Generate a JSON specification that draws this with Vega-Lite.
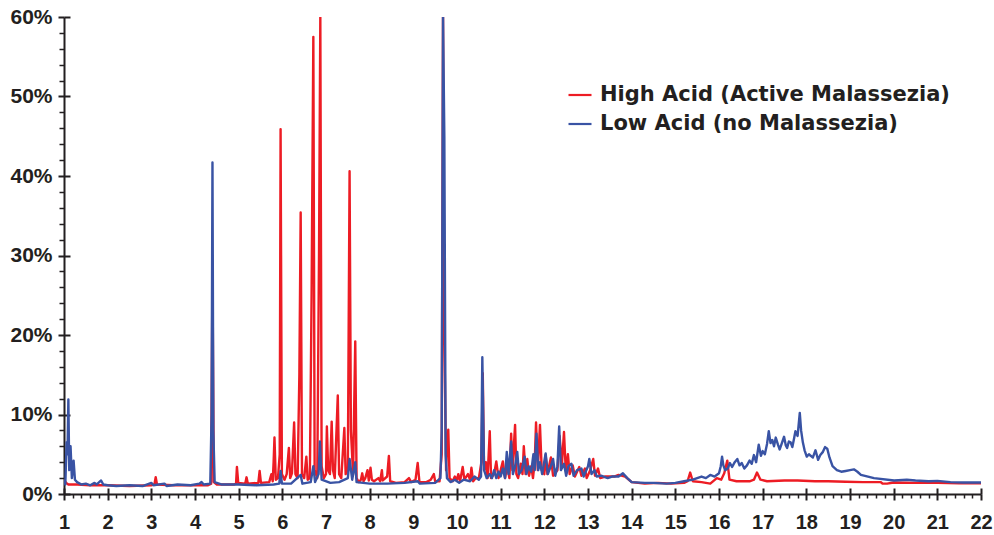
{
"$schema":"https://vega.github.io/schema/vega-lite/v6.json",
"width":917,"height":477,
"autosize":{"type":"none"},
"padding":{"left":64,"top":17,"right":13,"bottom":41},
"background":"white",
"config":{"view":{"stroke":null},"font":"Liberation Sans"},
"datasets":{
"main":[
{"s":"H","x":1.0,"y":1.8},{"s":"H","x":1.05,"y":1.4},{"s":"H","x":1.1,"y":1.2},{"s":"H","x":1.3,"y":1.2},{"s":"H","x":1.6,"y":1.1},{"s":"H","x":2.0,"y":1.1},{"s":"H","x":2.5,"y":1.0},{"s":"H","x":3.0,"y":1.1},{"s":"H","x":3.07,"y":1.2},{"s":"H","x":3.1,"y":2.1},{"s":"H","x":3.13,"y":1.2},{"s":"H","x":3.5,"y":1.1},{"s":"H","x":4.0,"y":1.1},{"s":"H","x":4.3,"y":1.1},{"s":"H","x":4.37,"y":1.3},{"s":"H","x":4.4,"y":27.9},{"s":"H","x":4.43,"y":1.5},{"s":"H","x":4.5,"y":1.2},{"s":"H","x":4.9,"y":1.2},{"s":"H","x":4.94,"y":1.3},{"s":"H","x":4.96,"y":3.4},{"s":"H","x":4.99,"y":1.4},{"s":"H","x":5.15,"y":1.3},{"s":"H","x":5.18,"y":2.1},{"s":"H","x":5.21,"y":1.3},{"s":"H","x":5.45,"y":1.4},{"s":"H","x":5.48,"y":2.9},{"s":"H","x":5.51,"y":1.4},{"s":"H","x":5.7,"y":1.5},{"s":"H","x":5.75,"y":2.5},{"s":"H","x":5.78,"y":1.6},{"s":"H","x":5.8,"y":4},{"s":"H","x":5.82,"y":7.1},{"s":"H","x":5.85,"y":1.8},{"s":"H","x":5.9,"y":2.0},{"s":"H","x":5.94,"y":5},{"s":"H","x":5.96,"y":45.9},{"s":"H","x":5.99,"y":2.5},{"s":"H","x":6.05,"y":1.8},{"s":"H","x":6.1,"y":2.5},{"s":"H","x":6.15,"y":5.8},{"s":"H","x":6.18,"y":2.0},{"s":"H","x":6.22,"y":2.6},{"s":"H","x":6.27,"y":9.0},{"s":"H","x":6.3,"y":2.5},{"s":"H","x":6.35,"y":2.0},{"s":"H","x":6.39,"y":15},{"s":"H","x":6.42,"y":35.4},{"s":"H","x":6.45,"y":2.5},{"s":"H","x":6.5,"y":2.0},{"s":"H","x":6.55,"y":4.7},{"s":"H","x":6.58,"y":1.8},{"s":"H","x":6.63,"y":2.0},{"s":"H","x":6.67,"y":25},{"s":"H","x":6.71,"y":57.5},{"s":"H","x":6.74,"y":3.0},{"s":"H","x":6.8,"y":2.0},{"s":"H","x":6.84,"y":30},{"s":"H","x":6.87,"y":60},{"s":"H","x":6.9,"y":3.5},{"s":"H","x":6.95,"y":2.0},{"s":"H","x":7.0,"y":2.5},{"s":"H","x":7.02,"y":8.5},{"s":"H","x":7.05,"y":3.0},{"s":"H","x":7.09,"y":2.5},{"s":"H","x":7.13,"y":9.1},{"s":"H","x":7.16,"y":3.0},{"s":"H","x":7.2,"y":2.0},{"s":"H","x":7.27,"y":12.4},{"s":"H","x":7.3,"y":2.5},{"s":"H","x":7.35,"y":2.0},{"s":"H","x":7.42,"y":8.3},{"s":"H","x":7.45,"y":2.5},{"s":"H","x":7.5,"y":3},{"s":"H","x":7.54,"y":40.6},{"s":"H","x":7.57,"y":8},{"s":"H","x":7.62,"y":2.5},{"s":"H","x":7.67,"y":19.2},{"s":"H","x":7.7,"y":2.0},{"s":"H","x":7.75,"y":1.5},{"s":"H","x":7.8,"y":1.8},{"s":"H","x":7.83,"y":2.6},{"s":"H","x":7.86,"y":1.6},{"s":"H","x":7.9,"y":2.0},{"s":"H","x":7.95,"y":3.0},{"s":"H","x":7.98,"y":1.7},{"s":"H","x":8.02,"y":3.3},{"s":"H","x":8.05,"y":1.8},{"s":"H","x":8.1,"y":1.6},{"s":"H","x":8.2,"y":2.0},{"s":"H","x":8.24,"y":1.6},{"s":"H","x":8.28,"y":3.0},{"s":"H","x":8.3,"y":1.7},{"s":"H","x":8.4,"y":2.2},{"s":"H","x":8.44,"y":4.8},{"s":"H","x":8.47,"y":1.6},{"s":"H","x":8.6,"y":1.4},{"s":"H","x":8.8,"y":1.5},{"s":"H","x":8.9,"y":2.0},{"s":"H","x":8.95,"y":1.5},{"s":"H","x":9.05,"y":1.8},{"s":"H","x":9.1,"y":3.9},{"s":"H","x":9.14,"y":1.5},{"s":"H","x":9.3,"y":1.5},{"s":"H","x":9.4,"y":1.8},{"s":"H","x":9.47,"y":2.5},{"s":"H","x":9.5,"y":1.6},{"s":"H","x":9.6,"y":1.6},{"s":"H","x":9.65,"y":5},{"s":"H","x":9.68,"y":60},{"s":"H","x":9.71,"y":20},{"s":"H","x":9.75,"y":3},{"s":"H","x":9.77,"y":6},{"s":"H","x":9.8,"y":8.1},{"s":"H","x":9.83,"y":2},{"s":"H","x":9.9,"y":1.6},{"s":"H","x":9.95,"y":2.2},{"s":"H","x":10.0,"y":1.8},{"s":"H","x":10.03,"y":2.5},{"s":"H","x":10.07,"y":1.6},{"s":"H","x":10.13,"y":3.4},{"s":"H","x":10.17,"y":1.8},{"s":"H","x":10.25,"y":2.5},{"s":"H","x":10.3,"y":1.8},{"s":"H","x":10.33,"y":3.3},{"s":"H","x":10.37,"y":1.6},{"s":"H","x":10.43,"y":2.0},{"s":"H","x":10.5,"y":2.0},{"s":"H","x":10.56,"y":4},{"s":"H","x":10.59,"y":15.2},{"s":"H","x":10.62,"y":3},{"s":"H","x":10.66,"y":4.0},{"s":"H","x":10.7,"y":2.0},{"s":"H","x":10.75,"y":7.9},{"s":"H","x":10.78,"y":2.0},{"s":"H","x":10.85,"y":2.5},{"s":"H","x":10.9,"y":4.1},{"s":"H","x":10.95,"y":2.0},{"s":"H","x":11.0,"y":3.0},{"s":"H","x":11.05,"y":4.1},{"s":"H","x":11.1,"y":2.0},{"s":"H","x":11.15,"y":3.5},{"s":"H","x":11.2,"y":2.0},{"s":"H","x":11.24,"y":7.6},{"s":"H","x":11.27,"y":3.0},{"s":"H","x":11.33,"y":8.7},{"s":"H","x":11.36,"y":2.5},{"s":"H","x":11.4,"y":2.0},{"s":"H","x":11.46,"y":3.8},{"s":"H","x":11.5,"y":2.5},{"s":"H","x":11.53,"y":6.0},{"s":"H","x":11.57,"y":2.5},{"s":"H","x":11.61,"y":4.4},{"s":"H","x":11.65,"y":2.3},{"s":"H","x":11.7,"y":3.5},{"s":"H","x":11.74,"y":2.0},{"s":"H","x":11.78,"y":4.0},{"s":"H","x":11.81,"y":9.0},{"s":"H","x":11.85,"y":3.0},{"s":"H","x":11.9,"y":8.7},{"s":"H","x":11.94,"y":3.0},{"s":"H","x":12.0,"y":2.5},{"s":"H","x":12.03,"y":4.9},{"s":"H","x":12.07,"y":2.5},{"s":"H","x":12.15,"y":4.6},{"s":"H","x":12.2,"y":2.3},{"s":"H","x":12.3,"y":3.0},{"s":"H","x":12.35,"y":7.3},{"s":"H","x":12.4,"y":3.5},{"s":"H","x":12.45,"y":7.8},{"s":"H","x":12.49,"y":3.0},{"s":"H","x":12.54,"y":5.0},{"s":"H","x":12.58,"y":2.5},{"s":"H","x":12.65,"y":3.6},{"s":"H","x":12.7,"y":2.2},{"s":"H","x":12.8,"y":3.4},{"s":"H","x":12.85,"y":2.3},{"s":"H","x":12.93,"y":3.2},{"s":"H","x":12.97,"y":2.0},{"s":"H","x":13.05,"y":3.0},{"s":"H","x":13.12,"y":4.4},{"s":"H","x":13.16,"y":2.3},{"s":"H","x":13.23,"y":3.2},{"s":"H","x":13.28,"y":2.0},{"s":"H","x":13.4,"y":2.2},{"s":"H","x":13.6,"y":2.2},{"s":"H","x":13.7,"y":2.4},{"s":"H","x":13.85,"y":2.2},{"s":"H","x":14.0,"y":1.5},{"s":"H","x":14.3,"y":1.3},{"s":"H","x":14.6,"y":1.4},{"s":"H","x":14.9,"y":1.3},{"s":"H","x":15.2,"y":1.4},{"s":"H","x":15.28,"y":1.6},{"s":"H","x":15.34,"y":2.7},{"s":"H","x":15.4,"y":1.6},{"s":"H","x":15.6,"y":1.5},{"s":"H","x":15.8,"y":1.3},{"s":"H","x":15.95,"y":2.0},{"s":"H","x":16.05,"y":1.8},{"s":"H","x":16.12,"y":2.6},{"s":"H","x":16.19,"y":4.2},{"s":"H","x":16.24,"y":1.8},{"s":"H","x":16.4,"y":1.6},{"s":"H","x":16.7,"y":1.6},{"s":"H","x":16.8,"y":1.8},{"s":"H","x":16.87,"y":2.7},{"s":"H","x":16.95,"y":1.8},{"s":"H","x":17.1,"y":1.6},{"s":"H","x":17.5,"y":1.7},{"s":"H","x":17.8,"y":1.7},{"s":"H","x":18.2,"y":1.6},{"s":"H","x":18.5,"y":1.6},{"s":"H","x":18.9,"y":1.55},{"s":"H","x":19.3,"y":1.5},{"s":"H","x":19.7,"y":1.5},{"s":"H","x":19.75,"y":1.3},{"s":"H","x":19.85,"y":1.3},{"s":"H","x":20.0,"y":1.45},{"s":"H","x":20.5,"y":1.4},{"s":"H","x":21.0,"y":1.4},{"s":"H","x":21.5,"y":1.35},{"s":"H","x":22.0,"y":1.35},
{"s":"L","x":1.0,"y":1.8},{"s":"L","x":1.03,"y":1.2},{"s":"L","x":1.06,"y":6.5},{"s":"L","x":1.08,"y":5},{"s":"L","x":1.1,"y":11.9},{"s":"L","x":1.12,"y":3},{"s":"L","x":1.15,"y":6},{"s":"L","x":1.18,"y":2},{"s":"L","x":1.22,"y":4.2},{"s":"L","x":1.25,"y":1.8},{"s":"L","x":1.3,"y":1.5},{"s":"L","x":1.4,"y":1.2},{"s":"L","x":1.5,"y":1.3},{"s":"L","x":1.6,"y":1.1},{"s":"L","x":1.7,"y":1.4},{"s":"L","x":1.75,"y":1.2},{"s":"L","x":1.85,"y":1.7},{"s":"L","x":1.9,"y":1.2},{"s":"L","x":2.0,"y":1.1},{"s":"L","x":2.2,"y":1.0},{"s":"L","x":2.5,"y":1.1},{"s":"L","x":2.8,"y":1.0},{"s":"L","x":3.0,"y":1.4},{"s":"L","x":3.05,"y":1.1},{"s":"L","x":3.3,"y":1.3},{"s":"L","x":3.35,"y":1.0},{"s":"L","x":3.6,"y":1.2},{"s":"L","x":3.9,"y":1.1},{"s":"L","x":4.1,"y":1.3},{"s":"L","x":4.15,"y":1.5},{"s":"L","x":4.2,"y":1.2},{"s":"L","x":4.35,"y":1.3},{"s":"L","x":4.38,"y":10},{"s":"L","x":4.4,"y":41.7},{"s":"L","x":4.42,"y":8},{"s":"L","x":4.45,"y":1.5},{"s":"L","x":4.6,"y":1.2},{"s":"L","x":5.0,"y":1.2},{"s":"L","x":5.4,"y":1.1},{"s":"L","x":5.8,"y":1.2},{"s":"L","x":5.93,"y":1.3},{"s":"L","x":5.96,"y":2.9},{"s":"L","x":5.99,"y":1.3},{"s":"L","x":6.2,"y":1.3},{"s":"L","x":6.42,"y":2.4},{"s":"L","x":6.46,"y":1.3},{"s":"L","x":6.65,"y":1.5},{"s":"L","x":6.71,"y":3.5},{"s":"L","x":6.75,"y":1.5},{"s":"L","x":6.83,"y":2.5},{"s":"L","x":6.86,"y":6.6},{"s":"L","x":6.9,"y":1.8},{"s":"L","x":7.1,"y":1.4},{"s":"L","x":7.3,"y":1.5},{"s":"L","x":7.5,"y":2.0},{"s":"L","x":7.54,"y":4.4},{"s":"L","x":7.6,"y":1.8},{"s":"L","x":7.67,"y":4.0},{"s":"L","x":7.7,"y":1.5},{"s":"L","x":8.0,"y":1.3},{"s":"L","x":8.4,"y":1.3},{"s":"L","x":8.8,"y":1.4},{"s":"L","x":9.1,"y":1.6},{"s":"L","x":9.15,"y":1.3},{"s":"L","x":9.5,"y":1.4},{"s":"L","x":9.62,"y":2},{"s":"L","x":9.65,"y":8},{"s":"L","x":9.68,"y":60},{"s":"L","x":9.71,"y":45},{"s":"L","x":9.74,"y":5},{"s":"L","x":9.77,"y":2},{"s":"L","x":9.85,"y":1.5},{"s":"L","x":9.95,"y":1.8},{"s":"L","x":10.05,"y":1.4},{"s":"L","x":10.15,"y":1.8},{"s":"L","x":10.3,"y":1.6},{"s":"L","x":10.4,"y":2.2},{"s":"L","x":10.5,"y":1.8},{"s":"L","x":10.55,"y":2.2},{"s":"L","x":10.58,"y":17.2},{"s":"L","x":10.62,"y":3},{"s":"L","x":10.68,"y":2.0},{"s":"L","x":10.75,"y":2.5},{"s":"L","x":10.8,"y":2.0},{"s":"L","x":10.85,"y":3.0},{"s":"L","x":10.9,"y":2.0},{"s":"L","x":10.95,"y":2.8},{"s":"L","x":11.0,"y":2.2},{"s":"L","x":11.05,"y":3.2},{"s":"L","x":11.1,"y":2.0},{"s":"L","x":11.14,"y":5.3},{"s":"L","x":11.18,"y":2.5},{"s":"L","x":11.24,"y":6.6},{"s":"L","x":11.28,"y":2.5},{"s":"L","x":11.33,"y":3.5},{"s":"L","x":11.38,"y":5.3},{"s":"L","x":11.42,"y":2.5},{"s":"L","x":11.48,"y":3.0},{"s":"L","x":11.55,"y":4.7},{"s":"L","x":11.59,"y":2.5},{"s":"L","x":11.64,"y":3.5},{"s":"L","x":11.7,"y":2.8},{"s":"L","x":11.75,"y":5.0},{"s":"L","x":11.78,"y":3.0},{"s":"L","x":11.82,"y":7.6},{"s":"L","x":11.86,"y":3.0},{"s":"L","x":11.9,"y":4.0},{"s":"L","x":11.95,"y":2.5},{"s":"L","x":12.03,"y":5.1},{"s":"L","x":12.08,"y":2.5},{"s":"L","x":12.15,"y":3.5},{"s":"L","x":12.2,"y":4.4},{"s":"L","x":12.25,"y":2.3},{"s":"L","x":12.3,"y":3.5},{"s":"L","x":12.34,"y":8.5},{"s":"L","x":12.38,"y":3.0},{"s":"L","x":12.45,"y":3.8},{"s":"L","x":12.5,"y":2.3},{"s":"L","x":12.55,"y":3.5},{"s":"L","x":12.62,"y":3.8},{"s":"L","x":12.67,"y":2.3},{"s":"L","x":12.75,"y":3.0},{"s":"L","x":12.85,"y":3.2},{"s":"L","x":12.9,"y":2.2},{"s":"L","x":13.0,"y":3.5},{"s":"L","x":13.03,"y":4.4},{"s":"L","x":13.08,"y":2.5},{"s":"L","x":13.15,"y":3.0},{"s":"L","x":13.2,"y":2.2},{"s":"L","x":13.3,"y":2.3},{"s":"L","x":13.45,"y":2.0},{"s":"L","x":13.55,"y":2.2},{"s":"L","x":13.7,"y":2.2},{"s":"L","x":13.8,"y":2.6},{"s":"L","x":13.9,"y":2.0},{"s":"L","x":14.0,"y":1.5},{"s":"L","x":14.3,"y":1.4},{"s":"L","x":14.5,"y":1.4},{"s":"L","x":14.8,"y":1.3},{"s":"L","x":15.0,"y":1.4},{"s":"L","x":15.2,"y":1.6},{"s":"L","x":15.4,"y":1.8},{"s":"L","x":15.6,"y":2.2},{"s":"L","x":15.7,"y":2.0},{"s":"L","x":15.8,"y":2.4},{"s":"L","x":15.9,"y":2.2},{"s":"L","x":16.0,"y":2.6},{"s":"L","x":16.04,"y":3.5},{"s":"L","x":16.07,"y":4.7},{"s":"L","x":16.1,"y":3.6},{"s":"L","x":16.14,"y":3.0},{"s":"L","x":16.2,"y":3.2},{"s":"L","x":16.25,"y":3.9},{"s":"L","x":16.3,"y":3.4},{"s":"L","x":16.36,"y":4.0},{"s":"L","x":16.42,"y":4.4},{"s":"L","x":16.47,"y":3.6},{"s":"L","x":16.52,"y":3.9},{"s":"L","x":16.58,"y":3.2},{"s":"L","x":16.64,"y":3.6},{"s":"L","x":16.7,"y":4.2},{"s":"L","x":16.75,"y":3.8},{"s":"L","x":16.8,"y":4.9},{"s":"L","x":16.85,"y":4.0},{"s":"L","x":16.91,"y":6.2},{"s":"L","x":16.96,"y":4.8},{"s":"L","x":17.0,"y":5.4},{"s":"L","x":17.05,"y":5.0},{"s":"L","x":17.1,"y":6.3},{"s":"L","x":17.14,"y":7.9},{"s":"L","x":17.18,"y":6.4},{"s":"L","x":17.22,"y":6.8},{"s":"L","x":17.26,"y":6.0},{"s":"L","x":17.3,"y":7.1},{"s":"L","x":17.35,"y":6.2},{"s":"L","x":17.39,"y":5.6},{"s":"L","x":17.44,"y":6.4},{"s":"L","x":17.49,"y":7.2},{"s":"L","x":17.53,"y":6.1},{"s":"L","x":17.56,"y":5.8},{"s":"L","x":17.6,"y":6.6},{"s":"L","x":17.64,"y":6.5},{"s":"L","x":17.68,"y":5.9},{"s":"L","x":17.72,"y":7.0},{"s":"L","x":17.75,"y":7.9},{"s":"L","x":17.8,"y":7.3},{"s":"L","x":17.85,"y":10.2},{"s":"L","x":17.88,"y":8.0},{"s":"L","x":17.92,"y":6.5},{"s":"L","x":17.96,"y":5.5},{"s":"L","x":18.01,"y":4.7},{"s":"L","x":18.06,"y":5.0},{"s":"L","x":18.1,"y":4.8},{"s":"L","x":18.15,"y":4.6},{"s":"L","x":18.21,"y":5.5},{"s":"L","x":18.27,"y":4.3},{"s":"L","x":18.32,"y":4.9},{"s":"L","x":18.38,"y":5.3},{"s":"L","x":18.43,"y":5.9},{"s":"L","x":18.48,"y":5.7},{"s":"L","x":18.53,"y":4.6},{"s":"L","x":18.6,"y":3.5},{"s":"L","x":18.7,"y":3.0},{"s":"L","x":18.8,"y":2.8},{"s":"L","x":18.9,"y":2.9},{"s":"L","x":19.0,"y":3.0},{"s":"L","x":19.09,"y":3.1},{"s":"L","x":19.17,"y":2.8},{"s":"L","x":19.25,"y":2.4},{"s":"L","x":19.55,"y":2.0},{"s":"L","x":20.01,"y":1.7},{"s":"L","x":20.3,"y":1.8},{"s":"L","x":20.5,"y":1.7},{"s":"L","x":20.8,"y":1.6},{"s":"L","x":21.0,"y":1.65},{"s":"L","x":21.3,"y":1.5},{"s":"L","x":21.6,"y":1.45},{"s":"L","x":22.0,"y":1.45}
],
"frame":[{"x":1,"y":0},{"x":22,"y":60}]
},
"layer":[
{"data":{"name":"main"},
 "mark":{"type":"line","strokeWidth":2.4,"strokeJoin":"round","clip":true},
 "encoding":{
  "x":{"field":"x","type":"quantitative","scale":{"domain":[1,22],"nice":false,"zero":false},
   "axis":{"orient":"bottom","title":null,"values":[1,2,3,4,5,6,7,8,9,10,11,12,13,14,15,16,17,18,19,20,21,22],"grid":false,"domainColor":"#231f20","domainWidth":2,"tickColor":"#231f20","tickWidth":2,"tickSize":6,"labelFont":"Liberation Sans","labelFontWeight":"bold","labelFontSize":20,"labelColor":"#231f20","labelPadding":12,"labelFlush":false}},
  "y":{"field":"y","type":"quantitative","scale":{"domain":[0,60],"nice":false},
   "axis":{"orient":"left","title":null,"values":[0,10,20,30,40,50,60],"labelExpr":"datum.value + '%'","grid":false,"domainColor":"#231f20","domainWidth":2,"tickColor":"#231f20","tickWidth":2,"tickSize":6,"labelFont":"Liberation Sans","labelFontWeight":"bold","labelFontSize":21,"labelColor":"#231f20","labelPadding":6,"labelFlush":false}},
  "color":{"field":"s","type":"nominal","scale":{"domain":["H","L"],"range":["#ed1c24","#3953a4"]},
   "legend":{"title":null,"orient":"none","legendX":503,"legendY":65,"labelExpr":"datum.label == 'H' ? 'High Acid (Active Malassezia)' : 'Low Acid (no Malassezia)'","labelLimit":0,"symbolType":"stroke","symbolSize":529,"symbolStrokeWidth":2.2,"labelFont":"DejaVu Sans","labelFontWeight":"bold","labelFontSize":21,"labelColor":"#231f20","labelOffset":7,"rowPadding":6}}
 }},
{"data":{"name":"frame"},
 "mark":{"type":"point","opacity":0},
 "encoding":{
  "x":{"field":"x","type":"quantitative","axis":{"orient":"bottom","title":null,"labels":false,"domain":false,"grid":false,"tickColor":"#231f20","tickWidth":1.5,"tickSize":4,"values":[1.2,1.4,1.6,1.8,2.2,2.4,2.6,2.8,3.2,3.4,3.6,3.8,4.2,4.4,4.6,4.8,5.2,5.4,5.6,5.8,6.2,6.4,6.6,6.8,7.2,7.4,7.6,7.8,8.2,8.4,8.6,8.8,9.2,9.4,9.6,9.8,10.2,10.4,10.6,10.8,11.2,11.4,11.6,11.8,12.2,12.4,12.6,12.8,13.2,13.4,13.6,13.8,14.2,14.4,14.6,14.8,15.2,15.4,15.6,15.8,16.2,16.4,16.6,16.8,17.2,17.4,17.6,17.8,18.2,18.4,18.6,18.8,19.2,19.4,19.6,19.8,20.2,20.4,20.6,20.8,21.2,21.4,21.6,21.8]}},
  "y":{"field":"y","type":"quantitative","axis":{"orient":"left","title":null,"labels":false,"domain":false,"grid":false,"tickColor":"#231f20","tickWidth":1.5,"tickSize":5,"values":[2,4,6,8,12,14,16,18,22,24,26,28,32,34,36,38,42,44,46,48,52,54,56,58]}}
 }},
{"data":{"name":"frame"},
 "mark":{"type":"point","opacity":0},
 "encoding":{
  "x":{"field":"x","type":"quantitative","axis":{"orient":"bottom","title":null,"labels":false,"domain":false,"grid":false,"tickColor":"#231f20","tickWidth":2,"tickSize":-6,"values":[1,2,3,4,5,6,7,8,9,10,11,12,13,14,15,16,17,18,19,20,21,22]}},
  "y":{"field":"y","type":"quantitative","axis":{"orient":"left","title":null,"labels":false,"domain":false,"grid":false,"tickColor":"#231f20","tickWidth":2,"tickSize":-6,"values":[0,10,20,30,40,50,60]}}
 }}
],
"resolve":{"axis":{"x":"independent","y":"independent"}}
}
